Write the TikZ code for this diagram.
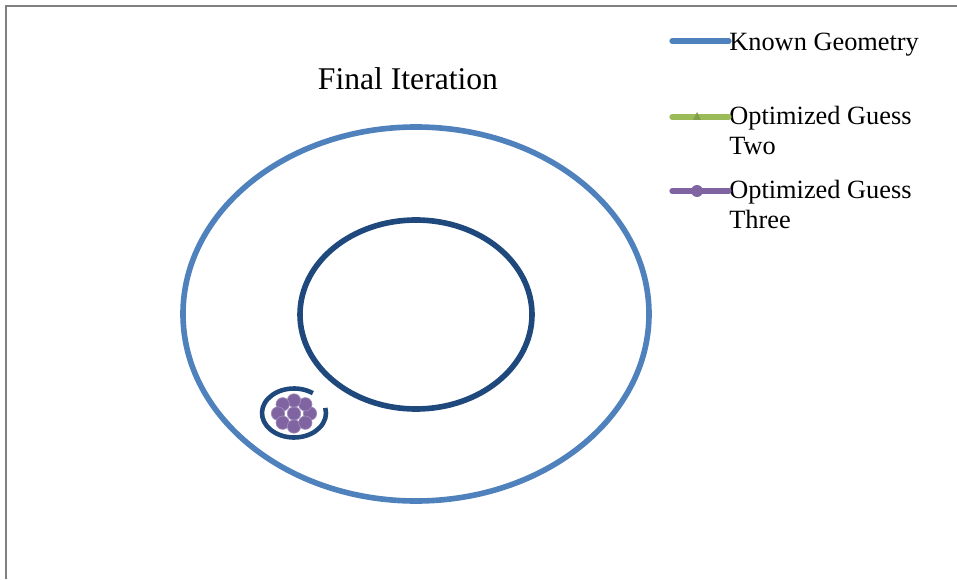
\documentclass[tikz,border=0pt]{standalone}
\usepackage{fontspec}
\setmainfont{Liberation Serif}
\usepackage{xcolor}
\usetikzlibrary{arrows.meta,shapes,positioning,calc}
\definecolor{knownblue}{RGB}{79,129,189}
\definecolor{darkblue}{RGB}{31,73,125}
\definecolor{guessgreen}{RGB}{155,187,89}
\definecolor{guesspurple}{RGB}{128,100,162}

\begin{document}
\begin{tikzpicture}[x=0.02cm, y=0.02cm,
    frame/.style={draw=gray, line width=1.5pt},
    known/.style={draw=knownblue, line width=3.2pt},
    inner/.style={draw=darkblue, line width=3.2pt},
    legtext/.style={anchor=west, align=left, inner sep=0pt, font=\fontsize{15}{17}\selectfont},
    legline/.style={line width=3pt, line cap=round},
    dot/.style={circle, fill=guesspurple, draw=guesspurple!75!white, line width=0.4pt, inner sep=0pt, minimum size=7.6pt}
]
    \useasboundingbox (0,0) rectangle (957,579);
    \draw[frame] (6,0) -- (6,573) -- (957,573);

    \node[font=\fontsize{18}{20}\selectfont] (title) at (408,500) {Final Iteration};

    % known geometry
    \draw[known] (416,265) ellipse [x radius=233, y radius=187];
    \draw[inner] (416,264.5) ellipse [x radius=116, y radius=94.5];
    \draw[inner, line width=2.6pt] (294,166) ++(54:32 and 24.5) arc [start angle=54, end angle=372, x radius=32, y radius=24.5];

    % optimized guesses
    \node[dot] (guess) at (294,165.5) {};
    \foreach \a in {0,45,...,315}
        \node[dot] at ($(guess)+(\a:16 and 13)$) {};

    % legend
    \node[legtext] (lknown) at (729,534) {Known Geometry};
    \node[legtext, anchor=north west] (ltwo) at (729,473) {Optimized Guess\\Two};
    \node[legtext, anchor=north west] (lthree) at (729,399) {Optimized Guess\\Three};

    \coordinate (k0) at (672,538);
    \coordinate (t0) at (672,462);
    \coordinate (h0) at (672,388);
    \draw[legline, knownblue] (k0) -- (k0 -| lknown.west);
    \draw[legline, guessgreen] (t0) -- (t0 -| ltwo.west);
    \fill[guessgreen!85!black] ($(t0)+(21,-3)$) -- ++(8,0) -- ++(-4,8) -- cycle;
    \draw[legline, guesspurple] (h0) -- (h0 -| lthree.west);
    \fill[guesspurple] ($(h0)+(25,0)$) circle (6);
\end{tikzpicture}
\end{document}
